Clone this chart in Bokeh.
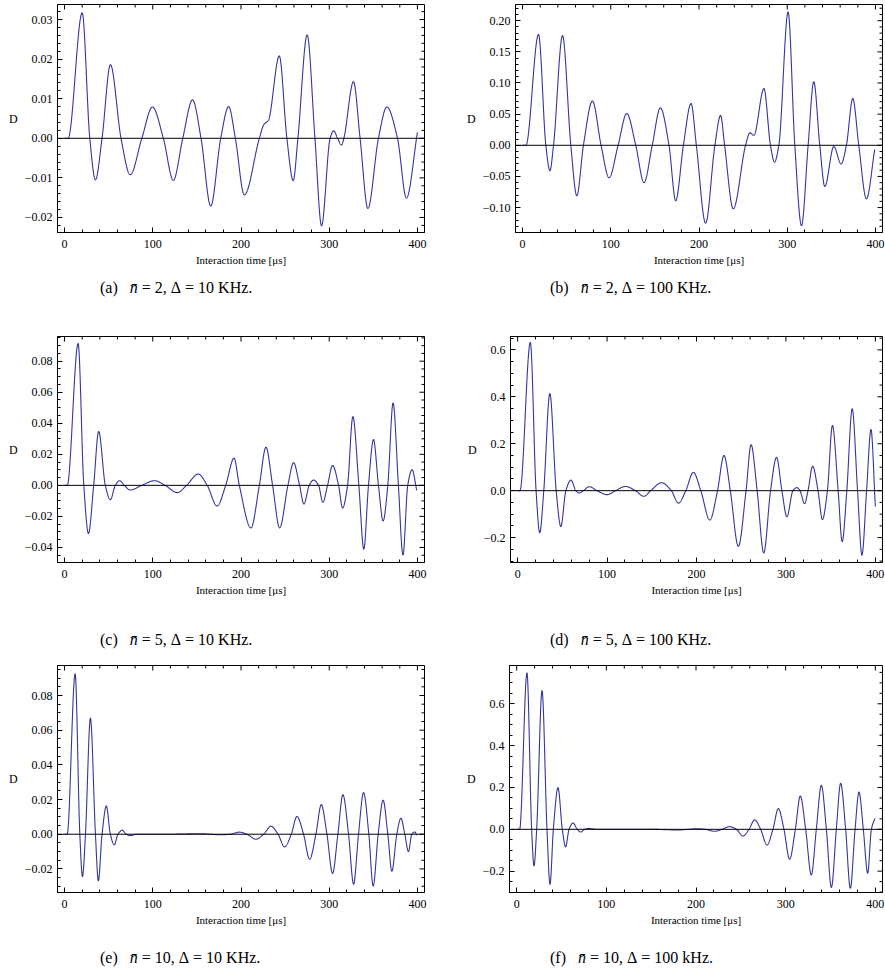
import numpy as np
from bokeh.plotting import figure
from bokeh.models import Range1d, FixedTicker, Span, Div
from bokeh.layouts import column, row
from bokeh.embed import file_html
from bokeh.resources import INLINE

# ---------------- data (time in us, D) ----------------
X_TICKS = [0, 100, 200, 300, 400]
X_TICK_LABELS = ["0", "100", "200", "300", "400"]
X_LABEL = "Interaction time [\u03bcs]"
Y_LABEL = "D"

# (a) nbar=2, Delta=10 KHz
A_T = [0, 4, 20, 28.6, 35, 42.5, 52, 64, 74.4, 87.6, 99.6, 112, 123.3, 134, 145, 154.7, 165.7, 177, 186, 193.6,
       203.8, 220.8, 226, 231, 243.4, 252, 259.2, 264.5, 275, 283.8, 291.3, 301, 305, 309.5, 314, 316.6, 327.5, 335,
       343.8, 355.8, 365.3, 377.4, 387.5, 400]
A_D = [0, 0, 0.0317, 0, -0.0105, 0, 0.0186, 0, -0.0092, 0, 0.0079, 0, -0.0106, 0, 0.0097, 0, -0.0171, 0, 0.0080, 0,
       -0.0143, 0, 0.0035, 0.0045, 0.0208, 0, -0.0107, 0, 0.0261, 0, -0.0221, 0, 0.0019, 0, -0.0017, 0, 0.0143, 0,
       -0.0177, 0, 0.0079, 0, -0.0151, 0.0015]
A_YTICKS = [-0.02, -0.01, 0.0, 0.01, 0.02, 0.03]
A_YLABELS = ["\u22120.02", "\u22120.01", "0.00", "0.01", "0.02", "0.03"]

# (b) nbar=2, Delta=100 KHz
B_T = [0, 3.8, 18.1, 26.4, 31, 35.1, 45.3, 54.7, 61.5, 69, 79.2, 89, 98.1, 108.3, 118.1, 128.3, 137.7, 147, 156.2,
       166, 173.6, 182.3, 191, 197, 207.5, 218, 224.5, 229, 238.8, 252.8, 257.7, 262.2, 273.6, 281, 285.6, 290.5,
       301, 308.6, 316.2, 323.7, 330.1, 336.9, 342.6, 352.8, 361.1, 367.1, 374.3, 381.1, 389.8, 399.2]
B_D = [0, 0, 0.178, 0, -0.041, 0, 0.176, 0, -0.081, 0, 0.071, 0, -0.052, 0, 0.051, 0, -0.060, 0, 0.060, 0,
       -0.089, 0, 0.067, 0, -0.125, 0, 0.048, 0, -0.102, 0, 0.020, 0.016, 0.091, 0, -0.027, 0, 0.214, 0, -0.129, 0,
       0.102, 0, -0.066, -0.002, -0.030, 0, 0.075, 0, -0.086, -0.0065]
B_YTICKS = [-0.10, -0.05, 0.0, 0.05, 0.10, 0.15, 0.20]
B_YLABELS = ["\u22120.10", "\u22120.05", "0.00", "0.05", "0.10", "0.15", "0.20"]

# (c) nbar=5, Delta=10 KHz
C_T = [0, 3, 15.4, 21.8, 27.1, 33, 38.7, 46.2, 51.9, 57.5, 62.4, 67.7, 74.4, 87.6, 101.9, 114, 127.8, 138.3, 151.5,
       161.7, 172.9, 182.7, 192.1, 198.1, 211.3, 220.8, 228.3, 235.8, 243.8, 253.2, 259.6, 266.4, 271.3, 277.3,
       282.3, 287.9, 292.8, 298.1, 303.8, 310.6, 315.1, 320.8, 326.8, 333.6, 339.2, 344.5, 350.2, 355.8, 361.1,
       366.4, 372.4, 378.4, 383.6, 389, 393.9, 399.2]
C_D = [0, 0, 0.0914, 0, -0.031, 0, 0.0347, 0, -0.0092, 0, 0.0030, 0, -0.0030, 0, 0.0030, 0, -0.0047, 0, 0.0073, 0,
       -0.0133, 0, 0.0175, 0, -0.0274, 0, 0.0246, 0, -0.0274, 0, 0.0146, 0, -0.0120, 0, 0.0034, 0, -0.0109, 0,
       0.0128, 0, -0.0146, 0, 0.0443, 0, -0.0411, 0, 0.0295, 0, -0.0229, 0, 0.0531, 0, -0.0449, 0, 0.0101, -0.0032]
C_YTICKS = [-0.04, -0.02, 0.0, 0.02, 0.04, 0.06, 0.08]
C_YLABELS = ["\u22120.04", "\u22120.02", "0.00", "0.02", "0.04", "0.06", "0.08"]

# (d) nbar=5, Delta=100 KHz
D_T = [0, 2.6, 14.2, 20.6, 24.7, 29.2, 36, 43.1, 48.3, 53.9, 59.6, 65.2, 68.9, 73.4, 80.1, 88.8, 100, 109.4, 120.6,
       131.8, 141.2, 148.7, 161, 171.9, 179.8, 188, 196.5, 204.8, 214.9, 223.5, 230.7, 237.8, 246.8, 255.4, 261,
       267.8, 275.2, 282.8, 289.5, 295.5, 301.1, 307.8, 312.3, 315.7, 320.9, 324.7, 329.9, 335.9, 340.8, 346.4,
       352, 358.4, 362.9, 368.1, 374.1, 380.1, 385, 390.2, 395.1, 400]
D_D = [0, 0, 0.632, 0, -0.179, 0, 0.414, 0, -0.153, 0, 0.045, 0, -0.010, 0, 0.017, 0, -0.017, 0, 0.018, 0,
       -0.024, 0, 0.034, 0, -0.053, 0, 0.078, 0, -0.125, 0, 0.150, 0, -0.237, 0, 0.196, 0, -0.265, 0, 0.142, 0,
       -0.111, 0, 0.013, 0, -0.055, 0, 0.104, 0, -0.123, 0, 0.278, 0, -0.217, 0, 0.349, 0, -0.275, 0, 0.261, -0.067]
D_YTICKS = [-0.2, 0.0, 0.2, 0.4, 0.6]
D_YLABELS = ["\u22120.2", "0.0", "0.2", "0.4", "0.6"]

# (e) nbar=10, Delta=10 KHz
E_T = [0, 3, 12, 17.3, 20.3, 23.7, 29.3, 35, 38.3, 42.5, 47.4, 51.9, 56.4, 60.5, 65.4, 70, 74.4, 82, 120, 153,
       165, 176, 188, 198, 206.8, 216.9, 225.7, 234, 242, 249.4, 257, 263.4, 270.9, 277.8, 284.9, 291, 297.4,
       303.8, 309.8, 315.5, 321.9, 327.6, 333.2, 338.9, 344.9, 349.8, 355.5, 361.1, 366.4, 371, 376.6, 381.2,
       385.7, 389.8, 393.6, 397, 399.2]
E_D = [0, 0, 0.0925, 0, -0.0245, 0, 0.0669, 0, -0.0269, 0, 0.0163, 0, -0.0061, 0, 0.0023, 0, -0.0008, 0, 0, 0.0003,
       0, -0.0003, 0, 0.0012, 0, -0.0029, 0, 0.0046, 0, -0.0073, 0, 0.0102, 0, -0.0144, 0, 0.0171, 0, -0.0226, 0,
       0.0228, 0, -0.0288, 0, 0.0240, 0, -0.0299, 0, 0.0196, 0, -0.0213, 0, 0.0092, 0, -0.0100, 0, 0.0013, -0.0006]
E_YTICKS = [-0.02, 0.0, 0.02, 0.04, 0.06, 0.08]
E_YLABELS = ["\u22120.02", "0.00", "0.02", "0.04", "0.06", "0.08"]

# (f) nbar=10, Delta=100 kHz
F_T = [0, 3.3, 11.5, 16.7, 19.3, 22.3, 28.3, 33.8, 37.2, 40.9, 46.1, 50.9, 54.6, 58.4, 62.8, 67.7, 71.4, 75.8, 79.6,
       90, 150, 180, 192, 200.4, 210, 220.8, 229, 237.5, 245, 252.4, 259.1, 265.4, 272.1, 279.2, 285.8, 291.8,
       298.1, 304.4, 310.8, 316.3, 322.3, 328.6, 334.2, 339.8, 345.4, 351, 356.5, 361.3, 366.9, 372.1, 377.4,
       381.8, 386.6, 391.5, 395.6, 399.5]
F_D = [0, 0, 0.748, 0, -0.175, 0, 0.663, 0, -0.263, 0, 0.199, 0, -0.084, 0, 0.030, 0, -0.013, 0, 0.004, 0,
       0, -0.003, 0, 0.003, 0, -0.0095, 0, 0.0127, 0, -0.032, 0, 0.045, 0, -0.075, 0, 0.099, 0, -0.143, 0, 0.159,
       0, -0.218, 0, 0.210, 0, -0.278, 0, 0.220, 0, -0.282, 0, 0.178, 0, -0.210, 0, 0.052]
F_YTICKS = [-0.2, 0.0, 0.2, 0.4, 0.6]
F_YLABELS = ["\u22120.2", "0.0", "0.2", "0.4", "0.6"]

CAPTIONS = [
    ("(a)", "2", "10 KHz."),
    ("(b)", "2", "100 KHz."),
    ("(c)", "5", "10 KHz."),
    ("(d)", "5", "100 KHz."),
    ("(e)", "10", "10 KHz."),
    ("(f)", "10", "100 kHz."),
]

LINE_COLOR = "#35359b"
FONT = "Liberation Serif"


def smooth_curve(x, y, n=2400):
    """Monotone cubic (PCHIP) drawing of the read points."""
    x = np.asarray(x, float)
    y = np.asarray(y, float)
    h = np.diff(x)
    dl = np.diff(y) / h
    m = len(x)
    d = np.zeros(m)
    for k in range(1, m - 1):
        if dl[k - 1] * dl[k] > 0:
            w1 = 2 * h[k] + h[k - 1]
            w2 = h[k] + 2 * h[k - 1]
            d[k] = (w1 + w2) / (w1 / dl[k - 1] + w2 / dl[k])
    d[-1] = dl[-1]
    xs = np.linspace(x[0], x[-1], n)
    idx = np.clip(np.searchsorted(x, xs) - 1, 0, m - 2)
    t = (xs - x[idx]) / h[idx]
    h00 = 2 * t**3 - 3 * t**2 + 1
    h10 = t**3 - 2 * t**2 + t
    h01 = -2 * t**3 + 3 * t**2
    h11 = t**3 - t**2
    ys = h00 * y[idx] + h10 * h[idx] * d[idx] + h01 * y[idx + 1] + h11 * h[idx] * d[idx + 1]
    return xs, ys


def minor_list(major, sub, lo, hi):
    step = (major[1] - major[0]) / sub
    vals = np.arange(major[0] - 3 * sub * step, major[-1] + 3 * sub * step + step / 2, step)
    majset = set(round(v, 6) for v in major)
    return [float(round(v, 6)) for v in vals if lo <= v <= hi and round(v, 6) not in majset]


def style_axis(ax):
    ax.major_tick_in = 5
    ax.major_tick_out = 0
    ax.minor_tick_in = 3
    ax.minor_tick_out = 0
    ax.axis_line_color = "black"
    ax.major_tick_line_color = "black"
    ax.minor_tick_line_color = "black"
    ax.major_label_text_font = FONT
    ax.major_label_text_font_size = "12px"
    ax.major_label_text_color = "black"
    ax.axis_label_text_font = FONT
    ax.axis_label_text_font_style = "normal"
    ax.axis_label_text_color = "black"


def make_panel(t, dvals, yticks, ylabels, ysub, yr, width, height, bl, br, bt, bb):
    xr = (-8, 408)
    p = figure(width=width, height=height, x_range=Range1d(*xr), y_range=Range1d(*yr),
               output_backend="svg", toolbar_location=None,
               min_border_left=bl, min_border_right=br, min_border_top=bt, min_border_bottom=bb)
    p.xgrid.visible = False
    p.ygrid.visible = False
    p.outline_line_color = "black"
    p.outline_line_width = 1
    p.background_fill_color = "white"
    p.border_fill_color = "white"

    xminor = minor_list(X_TICKS, 5, xr[0], xr[1])
    yminor = minor_list(yticks, ysub, yr[0], yr[1])
    p.xaxis.ticker = FixedTicker(ticks=X_TICKS, minor_ticks=xminor)
    p.yaxis.ticker = FixedTicker(ticks=yticks, minor_ticks=yminor)
    p.xaxis.major_label_overrides = dict(zip(X_TICKS, X_TICK_LABELS))
    p.yaxis.major_label_overrides = dict(zip(yticks, ylabels))
    for ax in p.xaxis:
        style_axis(ax)
        ax.major_label_standoff = 7
        ax.axis_label = X_LABEL
        ax.axis_label_text_font_size = "11px"
        ax.axis_label_standoff = 3
    for ax in p.yaxis:
        style_axis(ax)
        ax.major_label_standoff = 5
        ax.axis_label = Y_LABEL
        ax.axis_label_text_font_size = "12px"
        ax.axis_label_standoff = 4
        ax.axis_label_orientation = "horizontal"

    # mirrored inward ticks on the top and right frame edges (lengths in screen px)
    p.ray(x=X_TICKS, y=[yr[1]] * len(X_TICKS), length=5, length_units="screen",
          angle=-np.pi / 2, line_color="black", line_width=1)
    p.ray(x=xminor, y=[yr[1]] * len(xminor), length=3, length_units="screen",
          angle=-np.pi / 2, line_color="black", line_width=1)
    p.ray(x=[xr[1]] * len(yticks), y=yticks, length=5, length_units="screen",
          angle=np.pi, line_color="black", line_width=1)
    p.ray(x=[xr[1]] * len(yminor), y=yminor, length=3, length_units="screen",
          angle=np.pi, line_color="black", line_width=1)

    p.add_layout(Span(location=0, dimension="width", line_color="black", line_width=1))
    xs, ys = smooth_curve(t, dvals)
    p.line(xs, ys, line_color=LINE_COLOR, line_width=1.1)
    return p


def caption(cap, width, height, pad_left, pad_top):
    tag, nbar, delta = cap
    html = (f'<div style="padding-left:{pad_left}px;padding-top:{pad_top}px;font-family:\'{FONT}\';'
            f'font-size:16px;line-height:20px;white-space:nowrap;color:black">'
            f'{tag}&nbsp;&nbsp;&nbsp;<i>n\u0304</i>&nbsp;=&nbsp;{nbar},&nbsp;\u0394&nbsp;=&nbsp;{delta}</div>')
    return Div(text=html, width=width, height=height, margin=(0, 0, 0, 0))


LW, RW = 455, 430

pa = make_panel(A_T, A_D, A_YTICKS, A_YLABELS, 5, (-0.0238, 0.0338), LW, 270, 57, 31, 4, 38)
pb = make_panel(B_T, B_D, B_YTICKS, B_YLABELS, 5, (-0.140, 0.226), RW, 270, 60, 3, 4, 38)
pc = make_panel(C_T, C_D, C_YTICKS, C_YLABELS, 4, (-0.0497, 0.0959), LW, 284, 57, 31, 20, 38)
pd = make_panel(D_T, D_D, D_YTICKS, D_YLABELS, 4, (-0.306, 0.657), RW, 284, 55, 3, 20, 38)
pe = make_panel(E_T, E_D, E_YTICKS, E_YLABELS, 4, (-0.0336, 0.0973), LW, 270, 57, 31, 5, 38)
pf = make_panel(F_T, F_D, F_YTICKS, F_YLABELS, 4, (-0.302, 0.783), RW, 270, 54, 3, 5, 38)

layout = column(
    row(pa, pb),
    row(caption(CAPTIONS[0], LW, 46, 100, 8), caption(CAPTIONS[1], RW, 46, 95, 8)),
    row(pc, pd),
    row(caption(CAPTIONS[2], LW, 60, 100, 30), caption(CAPTIONS[3], RW, 60, 95, 30)),
    row(pe, pf),
    row(caption(CAPTIONS[4], LW, 44, 100, 18), caption(CAPTIONS[5], RW, 44, 95, 18)),
)

open("out.html", "w").write(file_html(layout, INLINE))
